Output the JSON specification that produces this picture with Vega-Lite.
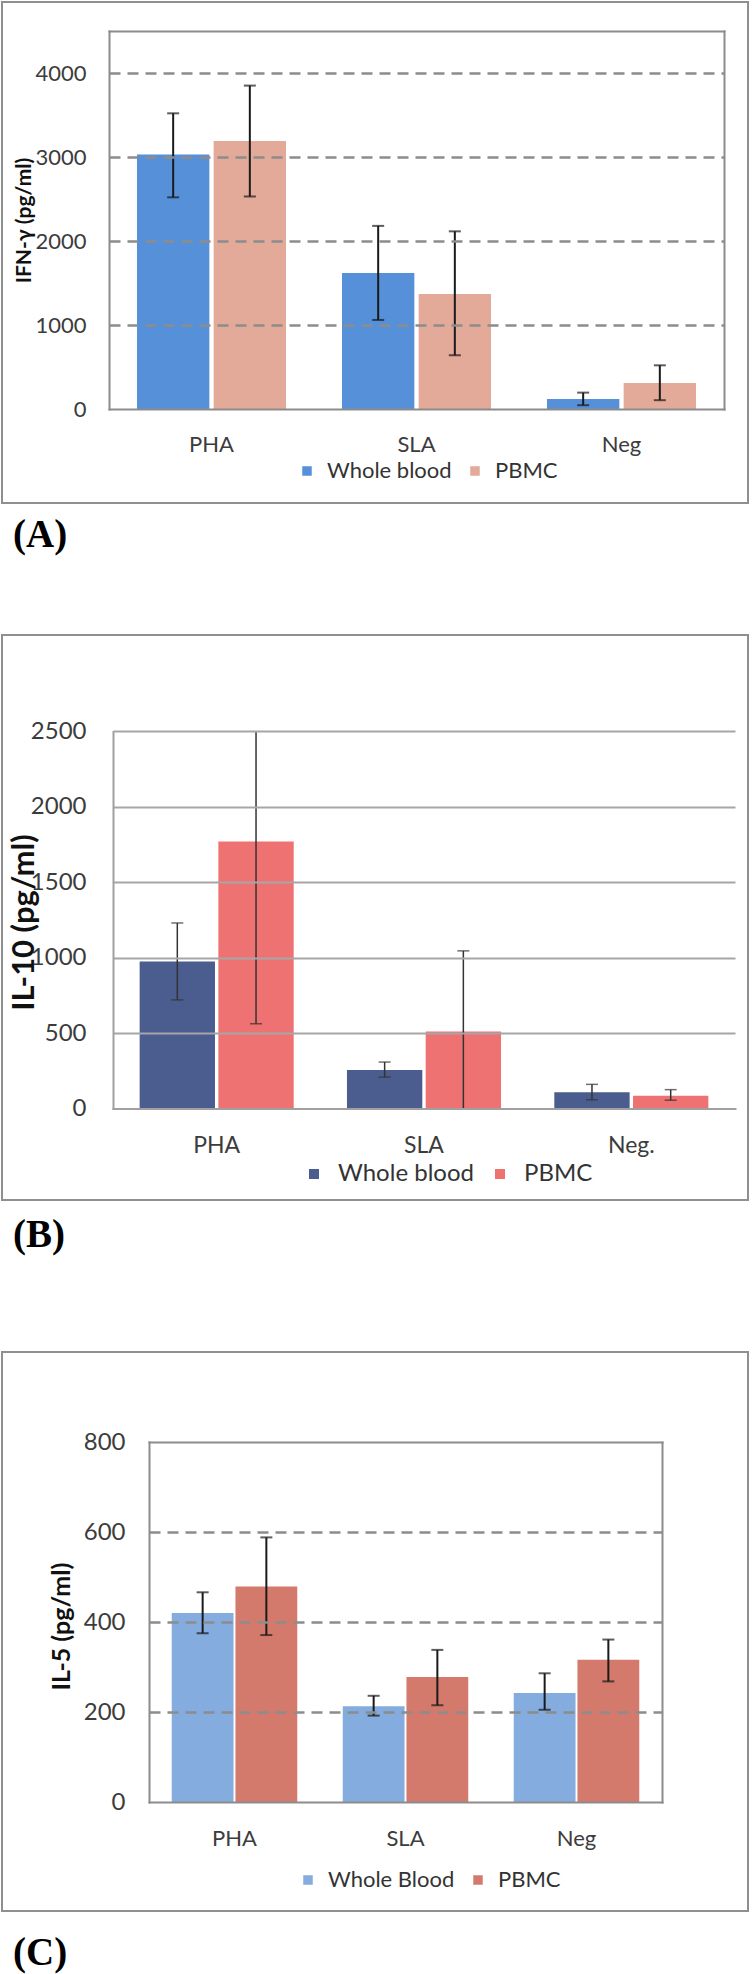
{
  "$schema": "https://vega.github.io/schema/vega-lite/v6.json",
  "padding": 1,
  "background": "white",
  "spacing": 78,
  "data": {"values": [
    {"panel": "A", "cat": "PHA", "series": "Whole blood", "val": 3030, "lo": 2520, "hi": 3520},
    {"panel": "A", "cat": "PHA", "series": "PBMC", "val": 3190, "lo": 2530, "hi": 3850},
    {"panel": "A", "cat": "SLA", "series": "Whole blood", "val": 1620, "lo": 1060, "hi": 2180},
    {"panel": "A", "cat": "SLA", "series": "PBMC", "val": 1370, "lo": 640, "hi": 2115},
    {"panel": "A", "cat": "Neg", "series": "Whole blood", "val": 120, "lo": 45, "hi": 195},
    {"panel": "A", "cat": "Neg", "series": "PBMC", "val": 310, "lo": 105, "hi": 520},
    {"panel": "B", "cat": "PHA", "series": "Whole blood", "val": 975, "lo": 720, "hi": 1230},
    {"panel": "B", "cat": "PHA", "series": "PBMC", "val": 1770, "lo": 562, "hi": 2980},
    {"panel": "B", "cat": "SLA", "series": "Whole blood", "val": 255, "lo": 208, "hi": 308},
    {"panel": "B", "cat": "SLA", "series": "PBMC", "val": 510, "lo": -25, "hi": 1045},
    {"panel": "B", "cat": "Neg.", "series": "Whole blood", "val": 108, "lo": 58, "hi": 160},
    {"panel": "B", "cat": "Neg.", "series": "PBMC", "val": 85, "lo": 55, "hi": 125},
    {"panel": "C", "cat": "PHA", "series": "Whole Blood", "val": 420, "lo": 375, "hi": 466},
    {"panel": "C", "cat": "PHA", "series": "PBMC", "val": 479, "lo": 371, "hi": 588},
    {"panel": "C", "cat": "SLA", "series": "Whole Blood", "val": 213, "lo": 192, "hi": 236},
    {"panel": "C", "cat": "SLA", "series": "PBMC", "val": 278, "lo": 215, "hi": 338},
    {"panel": "C", "cat": "Neg", "series": "Whole Blood", "val": 242, "lo": 205, "hi": 286},
    {"panel": "C", "cat": "Neg", "series": "PBMC", "val": 316, "lo": 268, "hi": 361}
  ]},
  "config": {
    "view": {"stroke": "#8f8f8f", "strokeWidth": 2},
    "font": "Lato",
    "axis": {"labelFont": "Lato", "titleFont": "Lato", "labelColor": "#3c3c3c", "titleColor": "#111111", "ticks": false, "domainColor": "#8c8c8c", "domainWidth": 2, "domainCap": "square"},
    "legend": {"labelFont": "Lato", "labelColor": "#333333", "symbolType": "square", "symbolStrokeWidth": 0, "padding": 0, "direction": "horizontal", "orient": "none"},
    "title": {"font": "Liberation Serif", "fontWeight": "bold", "color": "#000000"}
  },
  "vconcat": [
    {
      "width": 746, "height": 501,
      "title": {"text": "(A)", "orient": "bottom", "anchor": "start", "frame": "group", "dx": 11, "offset": 13, "fontSize": 39},
      "transform": [{"filter": "datum.panel == 'A'"}],
      "layer": [
        {
          "mark": {"type": "bar"},
          "encoding": {
            "x": {"field": "cat", "type": "nominal", "sort": ["PHA", "SLA", "Neg"], "scale": {"range": [107, 722], "paddingInner": 0.273, "paddingOuter": 0.1365},
                  "axis": {"orient": "bottom", "offset": -94, "title": null, "labelAngle": 0, "labelFontSize": 22, "labelPadding": 25, "zindex": 1, "grid": false}},
            "xOffset": {"field": "series", "type": "nominal", "sort": ["Whole blood", "PBMC"], "scale": {"paddingInner": 0.056, "paddingOuter": 0}},
            "y": {"field": "val", "type": "quantitative", "scale": {"domain": [0, 4500], "range": [407, 29], "nice": false},
                  "axis": {"orient": "left", "offset": -107, "values": [0, 1000, 2000, 3000, 4000], "format": "d", "grid": true, "gridDash": [11, 7], "gridColor": "#8c8c8c", "gridWidth": 2.5,
                           "gridOpacity": {"condition": {"test": "datum.value == 0", "value": 0}, "value": 1},
                           "labelFontSize": 22, "labelPadding": 23, "title": "IFN-γ (pg/ml)", "titleFontSize": 21, "titleFontWeight": "bold", "titleX": -85, "titleY": 218, "titleBaseline": "middle", "zindex": 1}},
            "color": {"field": "series", "type": "nominal", "scale": {"domain": ["Whole blood", "PBMC"], "range": ["#5590d8", "#e3a999"]},
                      "legend": {"title": null, "legendX": 294, "legendY": 458, "labelFontSize": 22, "symbolSize": 90, "labelOffset": 9, "columnPadding": 12, "direction": "horizontal"}}
          }
        },
        {
          "mark": {"type": "rule", "color": "#1a1a1a", "strokeWidth": 2},
          "encoding": {
            "x": {"field": "cat", "type": "nominal", "sort": ["PHA", "SLA", "Neg"], "scale": {"range": [107, 722], "paddingInner": 0.273, "paddingOuter": 0.1365},
                  "axis": {"orient": "top", "offset": -29, "labels": false, "ticks": false, "grid": false, "title": null, "zindex": 1}},
            "xOffset": {"field": "series", "type": "nominal", "sort": ["Whole blood", "PBMC"]},
            "y": {"field": "lo", "type": "quantitative", "axis": {"orient": "right", "offset": -24, "labels": false, "ticks": false, "grid": false, "title": null, "zindex": 1}},
            "y2": {"field": "hi"}
          }
        },
        {
          "mark": {"type": "tick", "color": "#1a1a1a", "thickness": 2, "size": 12, "orient": "horizontal"},
          "encoding": {
            "x": {"field": "cat", "type": "nominal", "sort": ["PHA", "SLA", "Neg"], "axis": null},
            "xOffset": {"field": "series", "type": "nominal", "sort": ["Whole blood", "PBMC"]},
            "y": {"field": "hi", "type": "quantitative", "axis": null}
          }
        },
        {
          "mark": {"type": "tick", "color": "#1a1a1a", "thickness": 2, "size": 12, "orient": "horizontal"},
          "encoding": {
            "x": {"field": "cat", "type": "nominal", "sort": ["PHA", "SLA", "Neg"], "axis": null},
            "xOffset": {"field": "series", "type": "nominal", "sort": ["Whole blood", "PBMC"]},
            "y": {"field": "lo", "type": "quantitative", "axis": null}
          }
        }
      ],
      "resolve": {"axis": {"x": "independent", "y": "independent"}}
    },
    {
      "width": 746, "height": 565,
      "title": {"text": "(B)", "subtitle": " ", "subtitleFontSize": 1, "subtitlePadding": 16, "orient": "bottom", "anchor": "start", "frame": "group", "dx": 11, "offset": 16, "fontSize": 39},
      "transform": [{"filter": "datum.panel == 'B'"}],
      "layer": [
        {
          "mark": {"type": "bar"},
          "encoding": {
            "x": {"field": "cat", "type": "nominal", "sort": ["PHA", "SLA", "Neg."], "scale": {"range": [111, 733], "paddingInner": 0.257, "paddingOuter": 0.1285},
                  "axis": {"orient": "bottom", "offset": -91.5, "title": null, "labelAngle": 0, "labelFontSize": 23, "labelPadding": 26, "zindex": 1, "grid": false, "domainColor": "#a0a0a0"}},
            "xOffset": {"field": "series", "type": "nominal", "sort": ["Whole blood", "PBMC"], "scale": {"paddingInner": 0.043, "paddingOuter": 0}},
            "y": {"field": "val", "type": "quantitative", "scale": {"domain": [0, 2500], "range": [473.5, 96.4], "nice": false, "clamp": true},
                  "axis": {"orient": "left", "offset": -111, "values": [0, 500, 1000, 1500, 2000, 2500], "format": "d", "grid": true, "gridColor": "#a6a6a6", "gridWidth": 2,
                           "gridOpacity": {"condition": {"test": "datum.value == 0", "value": 0}, "value": 1},
                           "labelFontSize": 24, "labelPadding": 27, "domainColor": "#a0a0a0", "title": "IL-10 (pg/ml)", "titleFontSize": 31, "titleFontWeight": "bold", "titleX": -89, "titleY": 287, "titleBaseline": "middle", "zindex": 1}},
            "color": {"field": "series", "type": "nominal", "scale": {"domain": ["Whole blood", "PBMC"], "range": ["#4b5d8f", "#ee7272"]},
                      "legend": {"title": null, "legendX": 300, "legendY": 527, "labelFontSize": 24, "symbolSize": 100, "labelOffset": 12, "columnPadding": 14, "direction": "horizontal"}}
          }
        },
        {
          "mark": {"type": "rule", "color": "#333333", "strokeWidth": 1.5},
          "encoding": {
            "x": {"field": "cat", "type": "nominal", "sort": ["PHA", "SLA", "Neg."], "axis": null},
            "xOffset": {"field": "series", "type": "nominal", "sort": ["Whole blood", "PBMC"]},
            "y": {"field": "lo", "type": "quantitative", "axis": null},
            "y2": {"field": "hi"}
          }
        },
        {
          "transform": [{"filter": "datum.hi <= 2500"}],
          "mark": {"type": "tick", "color": "#333333", "thickness": 1.5, "size": 12, "orient": "horizontal"},
          "encoding": {
            "x": {"field": "cat", "type": "nominal", "sort": ["PHA", "SLA", "Neg."], "axis": null},
            "xOffset": {"field": "series", "type": "nominal", "sort": ["Whole blood", "PBMC"]},
            "y": {"field": "hi", "type": "quantitative", "axis": null}
          }
        },
        {
          "transform": [{"filter": "datum.lo >= 0"}],
          "mark": {"type": "tick", "color": "#333333", "thickness": 1.5, "size": 12, "orient": "horizontal"},
          "encoding": {
            "x": {"field": "cat", "type": "nominal", "sort": ["PHA", "SLA", "Neg."], "axis": null},
            "xOffset": {"field": "series", "type": "nominal", "sort": ["Whole blood", "PBMC"]},
            "y": {"field": "lo", "type": "quantitative", "axis": null}
          }
        }
      ],
      "resolve": {"axis": {"x": "independent", "y": "independent"}}
    },
    {
      "width": 746, "height": 559,
      "title": {"text": "(C)", "orient": "bottom", "anchor": "start", "frame": "group", "dx": 11, "offset": 23, "fontSize": 39},
      "transform": [{"filter": "datum.panel == 'C'"}],
      "layer": [
        {
          "mark": {"type": "bar"},
          "encoding": {
            "x": {"field": "cat", "type": "nominal", "sort": ["PHA", "SLA", "Neg"], "scale": {"range": [147, 660], "paddingInner": 0.266, "paddingOuter": 0.133},
                  "axis": {"orient": "bottom", "offset": -109, "title": null, "labelAngle": 0, "labelFontSize": 22, "labelPadding": 26, "zindex": 1, "grid": false}},
            "xOffset": {"field": "series", "type": "nominal", "sort": ["Whole Blood", "PBMC"], "scale": {"paddingInner": 0.03, "paddingOuter": 0}},
            "y": {"field": "val", "type": "quantitative", "scale": {"domain": [0, 800], "range": [450, 90], "nice": false},
                  "axis": {"orient": "left", "offset": -147, "values": [0, 200, 400, 600, 800], "format": "d", "grid": true, "gridDash": [11, 7], "gridColor": "#8c8c8c", "gridWidth": 2.5,
                           "gridOpacity": {"condition": {"test": "datum.value == 0 || datum.value == 800", "value": 0}, "value": 1},
                           "labelFontSize": 24, "labelPadding": 24, "title": "IL-5 (pg/ml)", "titleFontSize": 25, "titleFontWeight": "bold", "titleX": -88, "titleY": 274, "titleBaseline": "middle", "zindex": 1}},
            "color": {"field": "series", "type": "nominal", "scale": {"domain": ["Whole Blood", "PBMC"], "range": ["#84acdf", "#d47a6c"]},
                      "legend": {"title": null, "legendX": 295, "legendY": 517, "labelFontSize": 22, "symbolSize": 90, "labelOffset": 9, "columnPadding": 12, "direction": "horizontal"}}
          }
        },
        {
          "mark": {"type": "rule", "color": "#1a1a1a", "strokeWidth": 2},
          "encoding": {
            "x": {"field": "cat", "type": "nominal", "sort": ["PHA", "SLA", "Neg"], "scale": {"range": [147, 660], "paddingInner": 0.266, "paddingOuter": 0.133},
                  "axis": {"orient": "top", "offset": -90, "labels": false, "ticks": false, "grid": false, "title": null, "zindex": 1}},
            "xOffset": {"field": "series", "type": "nominal", "sort": ["Whole Blood", "PBMC"]},
            "y": {"field": "lo", "type": "quantitative", "axis": {"orient": "right", "offset": -86, "labels": false, "ticks": false, "grid": false, "title": null, "zindex": 1}},
            "y2": {"field": "hi"}
          }
        },
        {
          "mark": {"type": "tick", "color": "#1a1a1a", "thickness": 2, "size": 12, "orient": "horizontal"},
          "encoding": {
            "x": {"field": "cat", "type": "nominal", "sort": ["PHA", "SLA", "Neg"], "axis": null},
            "xOffset": {"field": "series", "type": "nominal", "sort": ["Whole Blood", "PBMC"]},
            "y": {"field": "hi", "type": "quantitative", "axis": null}
          }
        },
        {
          "mark": {"type": "tick", "color": "#1a1a1a", "thickness": 2, "size": 12, "orient": "horizontal"},
          "encoding": {
            "x": {"field": "cat", "type": "nominal", "sort": ["PHA", "SLA", "Neg"], "axis": null},
            "xOffset": {"field": "series", "type": "nominal", "sort": ["Whole Blood", "PBMC"]},
            "y": {"field": "lo", "type": "quantitative", "axis": null}
          }
        }
      ],
      "resolve": {"axis": {"x": "independent", "y": "independent"}}
    }
  ],
  "resolve": {"scale": {"x": "independent", "y": "independent", "xOffset": "independent", "color": "independent"}, "legend": {"color": "independent"}}
}
